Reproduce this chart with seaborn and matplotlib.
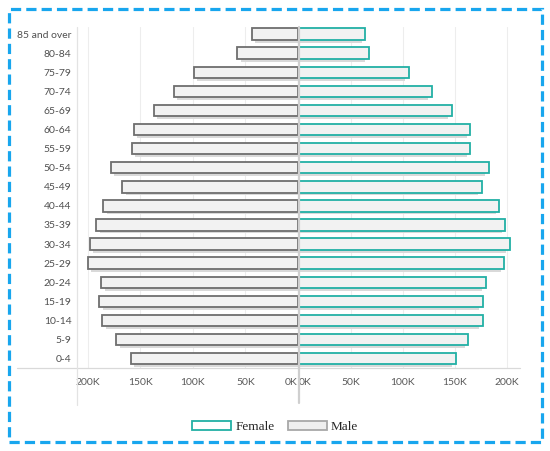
import pandas as pd
import matplotlib
matplotlib.use("Agg")
from matplotlib import pyplot as plt
from matplotlib import patheffects
from matplotlib.lines import Line2D
from matplotlib.patches import Patch, Rectangle
import seaborn as sns

ages = ["0-4", "5-9", "10-14", "15-19", "20-24", "25-29", "30-34", "35-39", "40-44",
        "45-49", "50-54", "55-59", "60-64", "65-69", "70-74", "75-79", "80-84", "85 and over"]
male = [159000, 173000, 186000, 189000, 187000, 200000, 198000, 192000, 185000,
        167000, 178000, 158000, 156000, 137000, 118000, 99000, 58000, 44000]
female = [151000, 163000, 177000, 177000, 180000, 198000, 203000, 199000, 193000,
          176000, 183000, 165000, 165000, 147000, 128000, 106000, 67000, 64000]
ticks = [0, 50000, 100000, 150000, 200000]
tick_labels = ["0K", "50K", "100K", "150K", "200K"]

df = pd.DataFrame({"age": ages, "Male": male, "Female": female})
order = ages[::-1]

sns.set_style("white")
plt.rcParams["font.family"] = ["Lato", "DejaVu Sans"]

W, H = 550, 451
fig = plt.figure(figsize=(5.5, 4.51), dpi=100)

def fx(px):
  return px / W

def fy(py):
  return 1 - py / H

top, bottom = 27, 368
ax_m = fig.add_axes([fx(77), fy(bottom), fx(298 - 77), (bottom - top) / H])
ax_f = fig.add_axes([fx(299), fy(bottom), fx(520 - 299), (bottom - top) / H])

fill = "#f2f2f2"
shadow = "#d9d9d9"
panes = [(ax_m, "Male", "#6e6e6e", 2.6), (ax_f, "Female", "#22b0a5", -2.6)]
for ax, col, edge, dx in panes:
  sns.barplot(data=df, y="age", x=col, order=order, orient="h", color=fill,
              edgecolor=edge, linewidth=1.3, width=0.6, saturation=1, ax=ax)
  for p in ax.patches:
    p.set_path_effects([patheffects.SimplePatchShadow(offset=(dx, -2.0), shadow_rgbFace=shadow, alpha=1),
                        patheffects.Normal()])
  ax.set_ylim(17.49, -0.37)
  ax.set_xticks(ticks)
  ax.set_xticklabels(tick_labels)
  ax.set_xlabel("")
  ax.set_ylabel("")
  ax.grid(axis="x", color="#ededed", lw=0.8)
  ax.set_axisbelow(True)
  ax.tick_params(axis="x", length=0, pad=7, labelsize=7.5, labelcolor="#5a5a5a")
  ax.tick_params(axis="y", length=0, pad=4, labelsize=7.5, labelcolor="#505050")
  for s in ax.spines.values():
    s.set_visible(False)

ax_m.set_xlim(210000, 0)
ax_f.set_xlim(0, 213000)
ax_f.set_yticks([])
ax_m.get_xticklabels()[0].set_ha("right")
ax_f.get_xticklabels()[0].set_ha("left")

# frame lines of the two panes
fig.add_artist(Line2D([fx(17), fx(520)], [fy(368), fy(368)], color="#d9d9d9", lw=0.9))
fig.add_artist(Line2D([fx(77), fx(77)], [fy(27), fy(405)], color="#e3e3e3", lw=0.9))
fig.add_artist(Line2D([fx(299), fx(299)], [fy(27), fy(403)], color="#cfcfcf", lw=1.6))

handles = [Patch(facecolor="white", edgecolor="#22b0a5", lw=1.3),
           Patch(facecolor="#efefef", edgecolor="#a8a8a8", lw=1.3)]
fig.legend(handles, ["Female", "Male"], loc="center", bbox_to_anchor=(fx(275), fy(427)),
           ncol=2, frameon=False, handlelength=3.0, handleheight=0.7, handletextpad=0.3,
           columnspacing=1.0, prop={"family": "Liberation Serif", "size": 9.5})

fig.add_artist(Rectangle((fx(9), fy(442)), fx(533), (442 - 9) / H, fill=False,
                         edgecolor="#18a6ee", lw=2.3, linestyle=(0, (3.2, 1.6))))

fig.savefig("out.png", dpi=100)
